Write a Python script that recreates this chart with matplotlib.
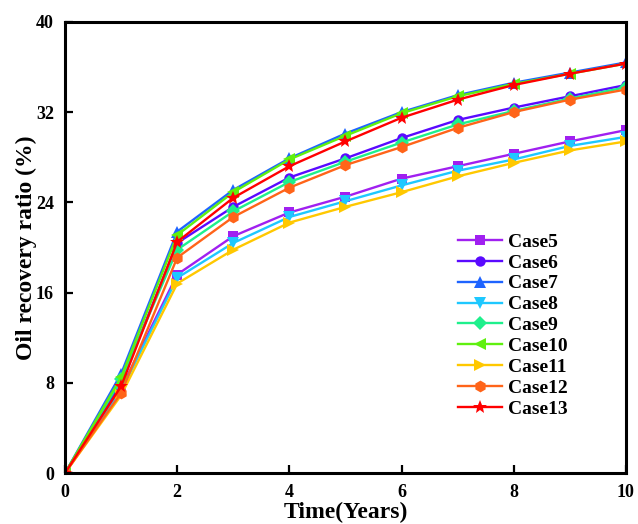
import numpy as np
import matplotlib
matplotlib.use("Agg")
import matplotlib.pyplot as plt

plt.rcParams['font.family'] = ['Liberation Serif', 'DejaVu Serif']
plt.rcParams['font.weight'] = 'bold'

# Data
years = [0, 1, 2, 3, 4, 5, 6, 7, 8, 9, 10]
case5 = [0, 7.5, 17.6, 21.0, 23.1, 24.5, 26.1, 27.2, 28.3, 29.4, 30.4]
case6 = [0, 8.0, 20.4, 23.6, 26.2, 27.9, 29.7, 31.3, 32.4, 33.4, 34.4]
case7 = [0, 8.8, 21.4, 25.1, 27.9, 30.1, 32.0, 33.5, 34.6, 35.5, 36.4]
case8 = [0, 7.3, 17.3, 20.4, 22.7, 24.1, 25.5, 26.8, 27.8, 29.0, 29.8]
case9 = [0, 8.3, 19.8, 23.2, 25.8, 27.6, 29.3, 30.9, 32.1, 33.2, 34.2]
case10 = [0, 8.5, 21.1, 24.9, 27.8, 29.9, 31.9, 33.4, 34.5, 35.4, 36.3]
case11 = [0, 6.9, 16.8, 19.8, 22.2, 23.6, 24.9, 26.3, 27.5, 28.6, 29.4]
case12 = [0, 7.1, 19.1, 22.7, 25.3, 27.3, 28.9, 30.6, 32.0, 33.1, 34.0]
case13 = [0, 7.7, 20.5, 24.4, 27.2, 29.4, 31.5, 33.1, 34.4, 35.4, 36.3]

labels = ['Case5', 'Case6', 'Case7', 'Case8', 'Case9', 'Case10', 'Case11', 'Case12', 'Case13']
series = [case5, case6, case7, case8, case9, case10, case11, case12, case13]
colors = ['#A020F0', '#5A0AFF', '#1E64FF', '#1EC8FF', '#1EF08C',
          '#5FF00F', '#FFC800', '#FF6419', '#FF0000']
markers = ['s', 'o', '^', 'v', 'D', '<', '>', 'h', '*']
msizes = [7.5, 7.5, 8.5, 8.5, 7, 8.5, 8.5, 8.5, 10]

fig = plt.figure(figsize=(6.38, 5.24), dpi=100)
ax = fig.add_axes([0.102, 0.0973, 0.879, 0.861])

for y, lab, c, m, ms in zip(series, labels, colors, markers, msizes):
    ax.plot(years, y, color=c, marker=m, markersize=ms, linewidth=1.7,
            markeredgewidth=0, label=lab)

ax.set_xlim(0, 10)
ax.set_ylim(0, 40)
ax.set_xticks([0, 2, 4, 6, 8, 10])
ax.set_yticks([0, 8, 16, 24, 32, 40])
for s in ax.spines.values():
    s.set_linewidth(2.2)
ax.tick_params(direction='in', length=5.5, width=1.6, labelsize=13, pad=8)

ax.set_xlabel('Time(Years)', fontsize=17, fontweight='bold', labelpad=0.5)
ax.set_ylabel('Oil recovery ratio (%)', fontsize=17, fontweight='bold', labelpad=-1)

ax.legend(loc='upper left', bbox_to_anchor=(0.70, 0.532), frameon=False,
          fontsize=14, handlelength=2.3, handletextpad=0.3, labelspacing=0.17,
          borderpad=0, borderaxespad=0)

fig.savefig('out.png', dpi=100)
